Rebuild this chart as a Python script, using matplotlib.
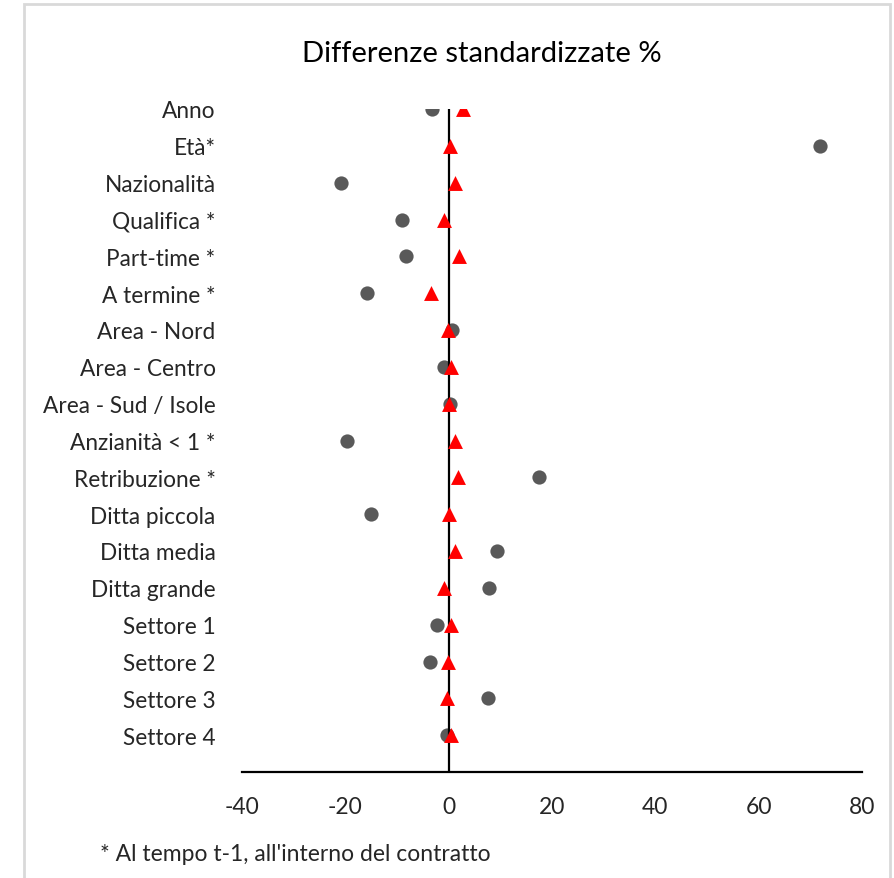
import matplotlib
matplotlib.use("Agg")
import matplotlib.pyplot as plt
from matplotlib.patches import Rectangle

# categories, top to bottom
labels = ["Anno", "Età*", "Nazionalità", "Qualifica *", "Part-time *", "A termine *",
          "Area - Nord", "Area - Centro", "Area - Sud / Isole", "Anzianità < 1 *",
          "Retribuzione *", "Ditta piccola", "Ditta media", "Ditta grande",
          "Settore 1", "Settore 2", "Settore 3", "Settore 4"]

# gray circles (before matching)
before = [-3.2, 71.8, -20.8, -9.1, -8.2, -15.9, 0.7, -0.9, 0.2, -19.6,
          17.4, -15.0, 9.3, 7.8, -2.3, -3.55, 7.65, -0.3]
# red triangles (after matching)
after = [2.85, 0.25, 1.3, -0.85, 1.95, -3.4, -0.05, 0.4, 0.0, 1.3,
         1.9, 0.0, 1.3, -0.85, 0.45, -0.2, -0.4, 0.45]

xticks = [-40, -20, 0, 20, 40, 60, 80]

plt.rcParams['font.family'] = ['Lato', 'DejaVu Sans']

fig = plt.figure(figsize=(8.94, 8.79), dpi=100)
ax = fig.add_axes([242 / 894, 1 - 773 / 879, 620 / 894, 663 / 879])

n = len(labels)
ypos = list(range(n, 0, -1))

ax.scatter(before, ypos, s=105, color='#595959', zorder=2, linewidths=0)
ax.plot([0, 0], [0, n], color='black', lw=1.6, zorder=3)
ax.scatter(after, ypos, s=115, marker='^', color='#ff0000', zorder=4, linewidths=0)

ax.set_xlim(-40, 80)
ax.set_ylim(0, n)
ax.set_xticks(xticks)
ax.set_xticklabels([str(t) for t in xticks], fontsize=16.5, color='#262626')
ax.tick_params(axis='x', length=0, pad=17)
ax.set_yticks(ypos)
ax.set_yticklabels(labels, fontsize=16.3, color='#262626')
ax.tick_params(axis='y', length=0, pad=19)

for side in ['top', 'right', 'left']:
    ax.spines[side].set_visible(False)
ax.spines['bottom'].set_linewidth(1.6)
ax.spines['bottom'].set_color('black')

fig.text(482 / 894, 1 - 54 / 879, "Differenze standardizzate %", ha='center', va='center',
         fontsize=21, color='black')
fig.text(100 / 894, 1 - 855 / 879, "* Al tempo t-1, all'interno del contratto", ha='left',
         va='center', fontsize=16.5, color='#262626')

# light chart-area frame
fig.patches.append(Rectangle((24 / 894, -0.05), (890 - 24) / 894, 1.05 - 5 / 879,
                             transform=fig.transFigure, fill=False,
                             edgecolor='#d9d9d9', lw=2))

fig.savefig("out.png", dpi=100)
